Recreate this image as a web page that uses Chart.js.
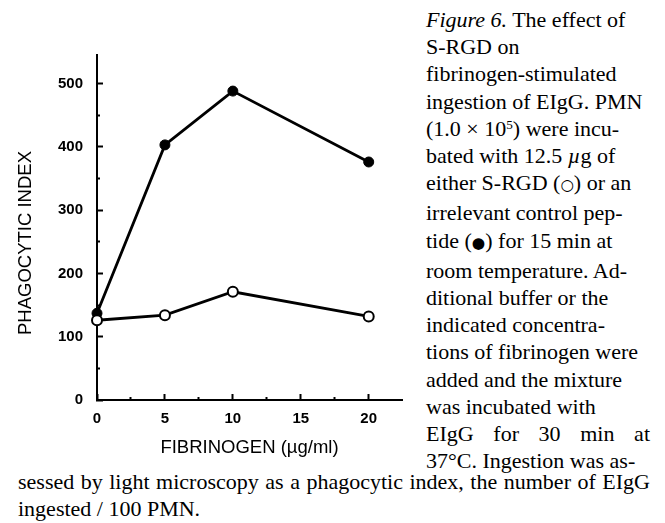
<!DOCTYPE html>
<html>
<head>
<meta charset="utf-8">
<script src="https://cdn.jsdelivr.net/npm/chart.js@4.4.1/dist/chart.umd.min.js"></script>
<style>
  html, body { margin: 0; padding: 0; background: #fff; }
  body { width: 665px; height: 523px; position: relative; overflow: hidden; }
  #plot { position: absolute; left: 0; top: 0; width: 410px; height: 460px; }
  #ytitle {
    position: absolute; left: 25px; top: 243px;
    transform: translate(-50%, -50%) rotate(-90deg);
    font: 18.5px 'Liberation Sans', Arial, sans-serif; color: #000; white-space: nowrap;
  }
  .cap { position: absolute; font: 22px/27.2px 'Liberation Serif', 'Times New Roman', serif; color: #000; white-space: nowrap; }
  .cap sup { font-size: 0.6em; line-height: 0; vertical-align: 0.55em; }
  .sym { font-family: 'DejaVu Sans', sans-serif; font-size: 0.7em; }
  .just { width: 224px; text-align: justify; text-align-last: justify; }
  .just2 { width: 632px; text-align: justify; text-align-last: justify; }
</style>
</head>
<body>
<div id="plot"><canvas id="chart"></canvas></div>
<div id="ytitle">PHAGOCYTIC INDEX</div>

<div class="cap" style="left:426px; top:6px;">
  <div><i>Figure 6.</i> The effect of</div>
  <div>S-RGD on</div>
  <div>fibrinogen-stimulated</div>
  <div>ingestion of EIgG. PMN</div>
  <div>(1.0 × 10<sup>5</sup>) were incu-</div>
  <div>bated with 12.5 <i>µ</i>g of</div>
  <div>either S-RGD (<span class="sym">○</span>) or an</div>
  <div>irrelevant control pep-</div>
  <div>tide (<span class="sym">●</span>) for 15 min at</div>
  <div>room temperature. Ad-</div>
  <div>ditional buffer or the</div>
  <div>indicated concentra-</div>
  <div>tions of fibrinogen were</div>
  <div>added and the mixture</div>
  <div>was incubated with</div>
  <div class="just">EIgG for 30 min at</div>
  <div>37°C. Ingestion was as-</div>
</div>
<div class="cap" style="left:18px; top:468px;">
  <div class="just2">sessed by light microscopy as a phagocytic index, the number of EIgG</div>
  <div>ingested / 100 PMN.</div>
</div>

<script>
// fibrinogen concentration (µg/ml)
const fibrinogen = [0, 5, 10, 20];
// open circles: S-RGD
const sRGD = [126, 134, 171, 132];
// filled circles: irrelevant control peptide
const controlPeptide = [137, 403, 488, 376];

const xTickLabels = [0, 5, 10, 15, 20];
const yTickLabels = [0, 100, 200, 300, 400, 500];

const ink = '#000';
const sans = "'Liberation Sans', Arial, sans-serif";
const tickFont = { family: sans, size: 15, weight: 'bold' };

const pts = ys => fibrinogen.map((x, i) => ({ x, y: ys[i] }));

new Chart(document.getElementById('chart'), {
  type: 'line',
  data: {
    datasets: [
      {
        label: 'S-RGD',
        data: pts(sRGD),
        borderColor: ink, borderWidth: 2.8,
        pointRadius: 5, pointBackgroundColor: '#fff', pointBorderColor: ink, pointBorderWidth: 2,
        clip: false
      },
      {
        label: 'control peptide',
        data: pts(controlPeptide),
        borderColor: ink, borderWidth: 2.8,
        pointRadius: 5, pointBackgroundColor: ink, pointBorderColor: ink, pointBorderWidth: 1,
        clip: false
      }
    ]
  },
  options: {
    responsive: true,
    maintainAspectRatio: false,
    animation: false,
    devicePixelRatio: 1,
    layout: { autoPadding: false, padding: { top: 55, right: 8, left: 0, bottom: 0 } },
    plugins: { legend: { display: false }, tooltip: { enabled: false } },
    scales: {
      x: {
        type: 'linear', min: 0, max: 22.45,
        afterFit: s => { s.height = 60; },
        border: { color: ink, width: 2 },
        grid: {
          drawOnChartArea: false, tickLength: -6, tickWidth: 2, tickColor: ink,
          // shorter minor ticks
          tickBorderDash: c => (c.tick && c.tick.value % 5) ? [4, 10] : []
        },
        ticks: {
          stepSize: 2.5, includeBounds: false, autoSkip: false, maxRotation: 0,
          padding: 16, color: ink, font: tickFont,
          callback: v => xTickLabels.includes(v) ? v : ''
        },
        title: {
          display: true, text: 'FIBRINOGEN (µg/ml)', color: ink,
          font: { family: sans, size: 18.5 }, padding: { top: 0, bottom: 1 }
        }
      },
      y: {
        min: 0, max: 545,
        afterFit: s => { s.width = 97; },
        border: { color: ink, width: 2 },
        grid: {
          drawOnChartArea: false, tickLength: -6, tickWidth: 2, tickColor: ink,
          tickBorderDash: c => (c.tick && c.tick.value % 100) ? [4, 3] : [],
          tickBorderDashOffset: c => (c.tick && c.tick.value % 100) ? 4 : 0
        },
        ticks: {
          stepSize: 50, includeBounds: false, autoSkip: false,
          padding: 20, color: ink, font: tickFont,
          callback: v => yTickLabels.includes(v) ? v : ''
        }
      }
    }
  }
});
</script>
</body>
</html>
